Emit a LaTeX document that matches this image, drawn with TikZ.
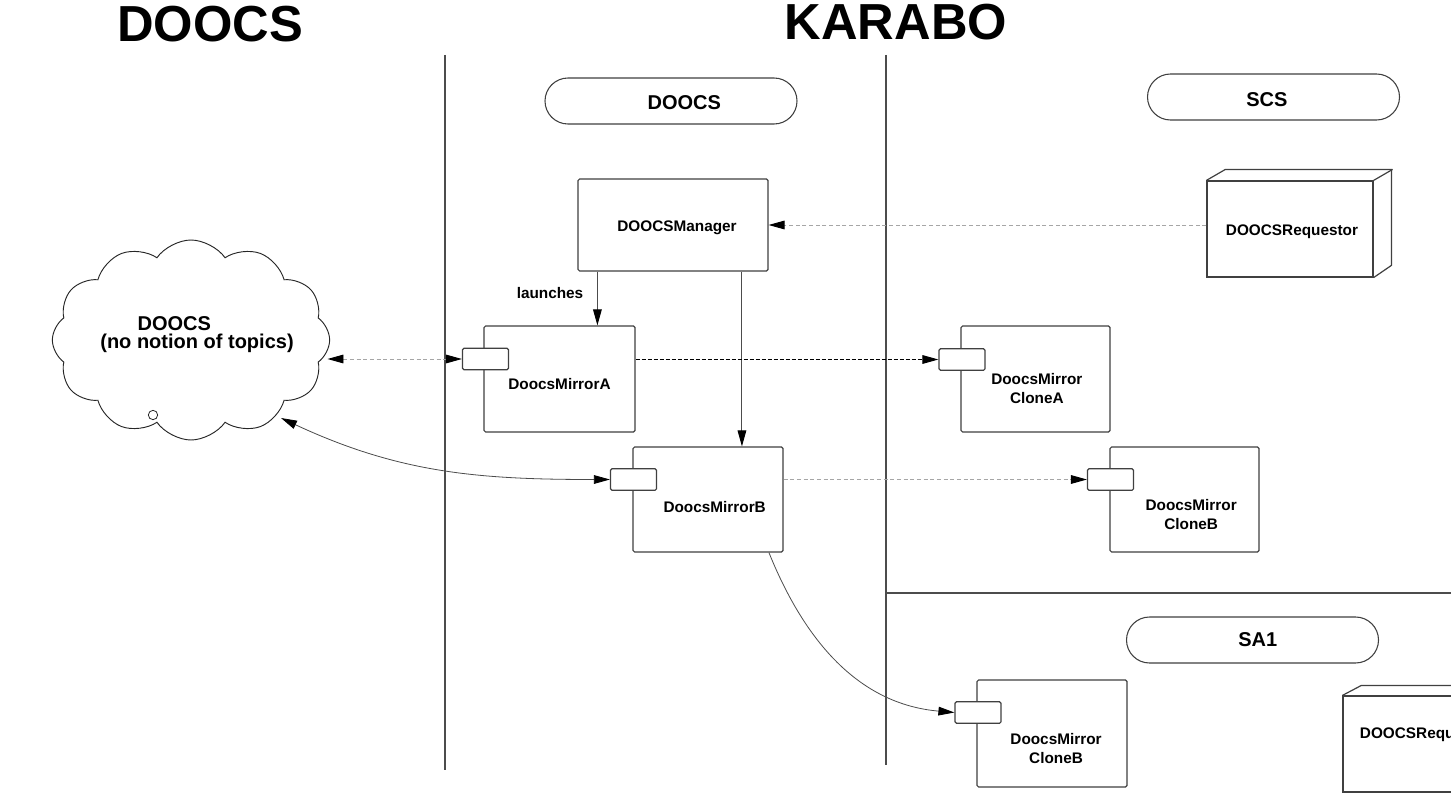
\documentclass[tikz,border=0pt]{standalone}
\usepackage{fontspec}
\setmainfont{Liberation Sans}
\usetikzlibrary{arrows.meta,shapes.symbols,shapes.misc,calc}
\begin{document}
\begin{tikzpicture}[x=0.75pt,y=-0.75pt,
  every node/.style={font=\bfseries},
  box/.style={draw=black!75, line width=0.9pt, fill=white, rounded corners=1.2pt, inner sep=0pt},
  boxline/.style={draw=black!75, line width=0.9pt},
  port/.style={draw=black!75, line width=0.9pt, fill=white, rounded corners=1pt, minimum width=34.5pt, minimum height=16pt, inner sep=0pt},
  lbl/.style={font=\fontsize{11.5}{14.25}\selectfont\bfseries, align=center},
  pill/.style={draw=black!75, line width=0.8pt, rounded rectangle, minimum width=189pt, minimum height=34.5pt, inner sep=0pt},
  pilltext/.style={font=\fontsize{15}{18}\selectfont\bfseries},
  heading/.style={font=\fontsize{38}{44}\selectfont\bfseries},
  sep/.style={draw=black!70, line width=1pt},
  tip/.style={-{Triangle[length=12pt,width=6.5pt,color=black]}},
  tips/.style={{Triangle[length=12pt,width=6.5pt,color=black]}-{Triangle[length=12pt,width=6.5pt,color=black]}},
  conn/.style={draw=black!70, line width=0.7pt},
  dotgrey/.style={draw=black!35, line width=0.7pt, dash pattern=on 3pt off 2pt},
  dashblack/.style={draw=black, line width=0.7pt, dash pattern=on 3pt off 1.5pt}
]
\useasboundingbox (0,0) rectangle (1451,792);
\fill[white] (0,0) rectangle (1451,792);
\clip (0,0) rectangle (1451,792);

% headings
\node[heading] (hdoocs) at (210,24) {DOOCS};
\node[heading] (hkarabo) at (896,22) {KARABO};

% separators
\draw[sep] (445,55) -- (445,770);
\draw[sep] (886,55) -- (886,765);
\draw[sep] (886,593) -- (1451,593);

% pills
\node[pill, label={[pilltext,xshift=10pt,yshift=-1pt]center:DOOCS}] (pdoocs) at (671,101) {};
\node[pill, label={[pilltext,xshift=-5pt,yshift=-2pt]center:SCS}] (pscs) at (1273.5,97) {};
\node[pill, label={[pilltext,xshift=4pt]center:SA1}] (psa1) at (1252.5,640) {};

% cloud
\node[cloud, draw=black!85, line width=0.7pt, cloud puffs=12, cloud puff arc=110, aspect=1.4,
      minimum width=208pt, minimum height=150pt, inner sep=0pt,
      label={[font=\fontsize{15}{13}\selectfont\bfseries, align=center, xshift=4.5pt, yshift=4pt]center:{DOOCS\hspace{34pt}\mbox{}\\(no notion of topics)}}] (cloud) at (191,340) {};
\node[circle, draw=black!85, line width=0.6pt, minimum size=7pt, inner sep=0pt] (dot) at (153,415) {};
\coordinate (cloudB) at (281,418);

% KARABO DOOCS part
\node[box, minimum width=142.5pt, minimum height=69pt, label={[lbl,xshift=3pt,yshift=-2pt]center:DOOCSManager}] (mgr) at (673,225) {};
\node[box, minimum width=113.25pt, minimum height=79.5pt, label={[lbl,yshift=-4pt]center:DoocsMirrorA}] (mirA) at (559.5,379) {};
\node[port] (portA) at (485.5,359) {};
\node[box, minimum width=112.5pt, minimum height=78.75pt, label={[lbl,xshift=5pt,yshift=-5.5pt]center:DoocsMirrorB}] (mirB) at (708,499.5) {};
\node[port] (portB) at (633.5,479.5) {};
\node[font=\fontsize{11.5}{14}\selectfont\bfseries] (launch) at (550,293) {launches};

% SCS part
\node[box, minimum width=111.75pt, minimum height=79.5pt, label={[lbl,xshift=1pt,yshift=-7.5pt]center:DoocsMirror\\CloneA}] (cloneA) at (1035.5,379) {};
\node[port] (portCA) at (962,359.5) {};
\node[box, minimum width=111.75pt, minimum height=78.75pt, label={[lbl,xshift=5pt,yshift=-11.5pt]center:DoocsMirror\\CloneB}] (cloneB) at (1184.5,499.5) {};
\node[port] (portCB) at (1110.5,479.5) {};
\node[box, rounded corners=0pt, minimum width=124.5pt, minimum height=72pt, label={[lbl,xshift=1.5pt,yshift=-2pt]center:DOOCSRequestor}] (req) at (1290,229) {};
\draw[boxline] (req.north west) -- ++(19,-11) -- ++(166,0) -- ++(0,96) -- (req.south east);
\draw[boxline] (req.north east) -- ++(19,-11);

% SA1 part
\node[box, minimum width=112.5pt, minimum height=80.25pt, label={[lbl,xshift=3pt,yshift=-11pt]center:DoocsMirror\\CloneB}] (saclone) at (1052,733.5) {};
\node[port] (portSB) at (978,712.5) {};
\node[box, rounded corners=0pt, minimum width=124.5pt, minimum height=72pt, label={[lbl,yshift=6.75pt]center:DOOCSRequestor}] (req2) at (1426,744) {};
\draw[boxline] (req2.north west) -- ++(19,-10) -- ++(166,0);
\draw[boxline] (req2.north east) -- ++(19,-10);

% connectors
\draw[conn, tip] ([xshift=15pt]mgr.south west) -- ([xshift=15pt]mgr.south west |- mirA.north);
\draw[conn, tip] ([xshift=-20pt]mgr.south east) -- ([xshift=-20pt]mgr.south east |- mirB.north);
\draw[dotgrey, tip] (req.west |- mgr.east) -- (mgr.east);
\draw[dashblack, tip] (mirA.east |- portCA.west) -- (portCA.west);
\draw[dotgrey, tip] (mirB.east |- portCB.west) -- (portCB.west);
\draw[dotgrey, tips] ([xshift=-2pt]portA.west -| cloud.east) -- (portA.west);
\draw[conn, line width=0.6pt, tips] (cloudB) to[out=-25, in=180] (portB.west);
\draw[conn, line width=0.6pt, tip] ([xshift=-11pt]mirB.south east) to[out=-68, in=175] (portSB.west);
\end{tikzpicture}
\end{document}
